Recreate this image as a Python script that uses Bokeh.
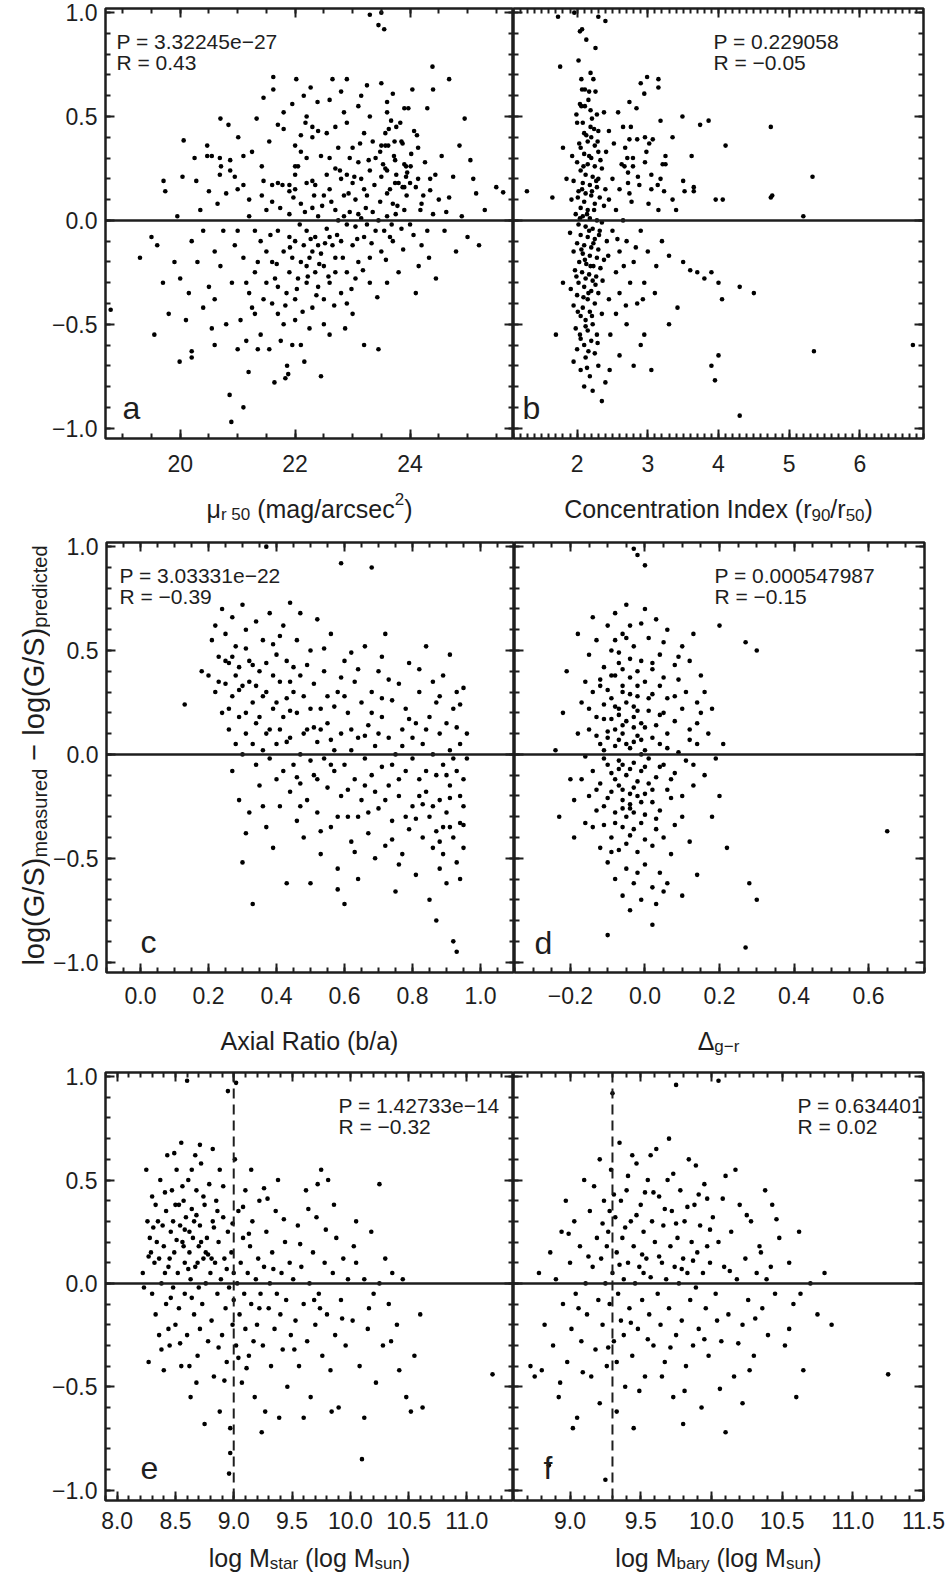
import numpy as np
from bokeh.plotting import figure
from bokeh.layouts import column, row
from bokeh.models import Span, Label, LinearAxis, FixedTicker, Range1d
from bokeh.core.properties import value
from bokeh.embed import file_html
from bokeh.resources import INLINE

FONT = "Liberation Sans"
INK = "#1e1e1e"

# ---------------- data ----------------
panel_a = [
(23.3,0.99),(23.45,0.94),(23.55,0.92),(23.5,1.0),
(21.62,0.69),(22.02,0.68),(21.62,0.63),(21.45,0.59),(22.27,0.64),(22.39,0.57),
(20.7,0.49),(20.84,0.46),(21.01,0.40),(21.33,0.49),(20.06,0.385),(20.47,0.36),(20.47,0.31),(20.55,0.31),(20.69,0.30),(20.87,0.29),
(20.71,0.26),(20.87,0.24),(21.1,0.31),(21.42,0.26),(20.69,0.22),(19.71,0.19),(20.04,0.21),(20.28,0.19),(19.74,0.14),(20.5,0.14),
(20.8,0.13),(21.0,0.15),(21.1,0.17),(21.42,0.12),(21.6,0.17),(21.7,0.18),(21.78,0.17),(21.8,0.44),(21.7,0.46),(21.8,0.52),
(21.95,0.56),(22.2,0.50),(22.18,0.47),(22.3,0.45),(22.4,0.43),(22.1,0.41),(22.3,0.40),(22.0,0.36),(22.1,0.33),(22.2,0.30),
(22.0,0.26),(22.05,0.26),(22.0,0.22),(22.2,0.18),(22.3,0.19),(22.35,0.17),(21.9,0.17),(22.0,0.15),(21.9,0.14),
(24.39,0.74),(24.68,0.68),(24.4,0.63),(24.04,0.63),(23.7,0.61),(23.6,0.57),(23.5,0.66),(23.9,0.54),(23.97,0.54),(24.3,0.54),
(23.6,0.52),(23.67,0.48),(23.76,0.45),(23.57,0.42),(24.07,0.43),(23.73,0.38),(23.85,0.38),(23.87,0.37),(23.5,0.36),(23.57,0.36),
(23.62,0.36),(24.14,0.35),(24.86,0.36),(23.48,0.33),(24.02,0.32),(23.74,0.29),(23.9,0.27),(23.93,0.26),(23.57,0.25),(23.6,0.24),
(23.76,0.22),(23.95,0.23),(23.93,0.21),(23.5,0.21),(24.14,0.20),(24.35,0.20),(23.74,0.18),(23.8,0.18),(24.0,0.18),(23.65,0.15),
(23.87,0.16),(23.9,0.16),(24.1,0.16),(24.35,0.145),(24.23,0.12),(23.6,0.13),(25.62,0.135),(24.5,0.10),(24.68,0.11),
(22.6,0.58),(22.7,0.45),(22.8,0.62),(22.9,0.47),(23.0,0.35),(23.1,0.55),(23.2,0.42),(22.6,0.3),(22.7,0.25),(22.8,0.2),
(22.9,0.22),(23.0,0.18),(23.1,0.28),(23.2,0.15),(23.3,0.24),(23.4,0.3),(22.5,0.12),(22.6,0.15),(22.75,0.35),(22.85,0.12),
(23.05,0.1),(23.25,0.12),(23.35,0.38),(22.95,0.3),(23.15,0.2),(22.55,0.22),(23.3,0.5),(23.25,0.65),(22.9,0.68),
(25.1,0.2),(25.3,0.05),(24.9,0.02),(25.0,-0.08),(24.8,-0.15),(24.6,-0.05),(25.15,0.13),(25.5,0.16),
(18.79,-0.43),(19.5,-0.08),(19.6,-0.12),(19.9,-0.2),(19.7,-0.3),(19.8,-0.45),(20.0,-0.28),(20.2,-0.1),(20.3,-0.2),(20.2,-0.63),
(20.2,-0.66),(20.4,-0.05),(20.5,-0.32),(20.6,-0.15),(20.6,-0.38),(20.7,-0.22),(20.8,-0.5),(20.9,-0.3),(19.99,-0.68),(20.86,-0.84),
(21.1,-0.9),(20.89,-0.97),(21.19,-0.73),(21.86,-0.70),(21.88,-0.74),(21.83,-0.76),(21.64,-0.78),(22.16,-0.68),
(21.0,-0.05),(21.1,-0.18),(21.2,-0.35),(21.2,0.02),(21.3,-0.25),(21.3,-0.45),(21.4,-0.1),(21.4,-0.55),(21.5,-0.3),(21.5,0.05),
(21.6,-0.2),(21.6,-0.4),(21.7,-0.05),(21.7,-0.32),(21.8,-0.15),(21.8,-0.5),(21.9,-0.25),(21.9,0.03),(22.0,-0.1),(22.0,-0.38),
(22.1,-0.2),(22.1,-0.6),(22.2,-0.05),(22.2,-0.3),(22.3,-0.15),(22.3,-0.42),(22.4,-0.12),(22.4,0.02),(22.5,-0.22),(22.5,-0.5),
(22.6,-0.08),(22.6,-0.3),(22.7,-0.18),(22.7,0.05),(22.8,-0.1),(22.8,-0.35),(22.9,-0.02),(22.9,-0.25),(23.0,-0.12),(23.0,-0.45),
(23.1,0.03),(23.1,-0.2),(23.2,-0.08),(23.2,-0.6),(23.3,-0.3),(23.4,-0.05),(23.5,-0.15),(23.6,0.02),(23.7,-0.1),(23.8,-0.25),
(23.9,0.05),(24.0,-0.02),(24.1,-0.35),(24.2,-0.12),(24.3,-0.05),(24.4,0.03),(23.45,-0.62),(22.45,-0.75),(22.6,-0.55),(21.95,-0.6),
(22.25,-0.52),(21.55,-0.62),(21.75,-0.58),
(22.15,-0.12),(22.25,-0.18),(22.35,-0.08),(22.45,-0.16),(22.55,-0.04),(22.65,-0.12),(22.35,-0.25),(22.2,-0.22),(22.4,-0.32),(22.05,-0.28),
(21.95,-0.18),(21.85,-0.35),(21.65,-0.28),(21.45,-0.38),(21.35,-0.2),(21.25,-0.42),(21.15,-0.3),(21.05,-0.48),(20.95,-0.12),(22.75,0.0),
(22.85,0.02),(22.95,0.04),(23.05,-0.03),(23.15,0.01),(23.25,-0.02),(23.35,0.04),(23.45,0.0),(23.55,-0.05),(23.65,-0.08),(23.75,0.03),
(23.85,-0.04),(22.7,-0.25),(22.9,-0.4),(23.05,-0.28),(23.3,-0.18),(23.6,-0.3),(22.5,-0.38),(21.7,-0.45),(22.0,-0.48),(21.5,-0.15),
(21.3,-0.05),(21.9,-0.08),(20.4,-0.42),(20.1,-0.48),(20.6,-0.6),(21.0,-0.62),(21.35,-0.62),(23.7,0.08),(24.2,0.08),(22.1,0.08),
(22.3,0.06),(21.6,0.09),(21.2,0.1),
(21.57,-0.07),(21.68,-0.21),(21.74,0.06),(21.83,-0.41),(21.91,-0.13),(21.97,0.11),(22.03,-0.33),(22.08,-0.02),(22.13,-0.44),(22.17,0.04),
(22.22,-0.27),(22.27,-0.09),(22.33,0.12),(22.37,-0.36),(22.42,-0.21),(22.47,0.07),(22.52,-0.11),(22.58,-0.27),(22.63,0.09),(22.68,-0.41),
(22.73,-0.07),(22.78,0.24),(22.83,-0.18),(22.87,-0.52),(22.93,0.13),(22.98,-0.33),(23.03,0.21),(23.08,-0.09),(23.13,0.37),(23.18,-0.24),
(23.23,0.06),(23.28,0.29),(23.33,-0.11),(23.38,0.17),(23.43,-0.37),(23.48,0.09),(23.53,0.27),(23.58,-0.19),(23.63,0.44),(23.68,-0.02),
(23.72,0.31),(23.78,0.07),(23.83,0.47),(23.88,-0.14),(23.94,0.12),(24.01,0.26),(24.06,-0.07),(24.12,0.41),(24.18,0.05),(24.26,0.28),
(24.33,-0.18),(24.44,0.22),(24.55,0.31),(24.63,0.04),(24.75,0.21),(24.95,0.49),(25.05,0.29),(25.2,-0.12),(24.45,-0.28),(24.15,-0.22),
(20.35,0.05),(20.65,0.08),(20.95,0.21),(21.25,0.33),(21.55,0.38),(20.15,-0.35),(20.55,-0.52),(20.75,-0.05),(21.15,-0.58),(21.45,0.19),
(19.95,0.02),(19.3,-0.18),(19.55,-0.55),(20.25,0.3),(22.55,0.42),(22.85,0.52),(23.15,0.6),(22.65,0.68),(22.45,0.31),(22.15,0.6),
]

panel_b = [
(1.73,0.98),(1.96,1.0),(2.04,0.91),(2.07,0.92),(2.13,0.87),(1.76,0.74),(2.06,0.68),(2.23,0.68),(2.07,0.63),(2.11,0.63),
(2.17,0.62),(2.26,0.62),(2.16,0.58),(2.04,0.56),(2.06,0.55),(1.99,0.51),(2.19,0.53),(2.28,0.51),(2.21,0.49),(2.0,0.47),
(2.19,0.45),(2.3,0.43),(2.45,0.43),(2.65,0.45),(2.76,0.45),(2.9,0.66),(2.99,0.69),(3.15,0.68),(3.15,0.64),(2.95,0.61),
(2.74,0.57),(2.84,0.54),(3.18,0.48),(3.49,0.50),(3.74,0.46),(3.86,0.48),(3.35,0.40),(2.96,0.40),(3.02,0.37),(3.07,0.39),
(2.85,0.39),(2.74,0.39),(2.68,0.35),(2.98,0.33),(3.25,0.31),(3.21,0.27),(3.25,0.27),(2.79,0.30),(2.71,0.30),(2.67,0.26),
(2.79,0.26),(2.72,0.23),(2.86,0.21),(2.72,0.18),(3.05,0.22),(3.18,0.20),(3.14,0.17),(3.05,0.15),(3.23,0.14),(3.5,0.19),
(3.65,0.16),(3.52,0.14),(3.65,0.14),(1.29,0.14),(1.65,0.11),(4.74,0.45),(4.10,0.36),(5.33,0.21),(3.96,0.10),(4.06,0.10),
(4.74,0.11),(4.76,0.12),(5.2,0.02),
(2.1,0.42),(2.2,0.4),(2.15,0.38),(2.25,0.36),(2.05,0.35),(2.3,0.33),(2.1,0.32),(2.2,0.3),(2.0,0.28),(2.15,0.27),
(2.25,0.26),(2.35,0.25),(2.05,0.24),(2.12,0.22),(2.22,0.21),(2.3,0.2),(1.95,0.19),(2.08,0.18),(2.18,0.17),(2.28,0.16),
(2.4,0.15),(2.02,0.14),(2.12,0.13),(2.2,0.12),(2.32,0.11),(1.92,0.1),(2.1,0.09),(2.25,0.08),(2.38,0.07),(2.05,0.06),
(2.15,0.05),(2.45,0.1),(2.5,0.2),(2.55,0.05),(2.6,0.15),
(1.98,0.03),(2.08,0.02),(2.18,0.01),(2.28,0.0),(2.35,-0.01),(2.02,-0.02),(2.12,-0.03),(2.22,-0.04),(2.32,-0.05),(1.9,-0.06),
(2.05,-0.07),(2.15,-0.08),(2.25,-0.09),(2.42,-0.1),(2.0,-0.11),(2.1,-0.12),(2.2,-0.13),(2.3,-0.14),(1.95,-0.15),(2.08,-0.16),
(2.18,-0.17),(2.28,-0.18),(2.38,-0.19),(2.03,-0.2),(2.13,-0.21),(2.23,-0.22),(2.33,-0.23),(1.97,-0.24),(2.07,-0.25),(2.17,-0.26),
(2.27,-0.27),(2.12,-0.28),(2.22,-0.29),(2.02,-0.3),(2.5,-0.05),(2.6,-0.15),(2.55,-0.25),(2.7,-0.1),(2.8,-0.2),(2.9,-0.05),
(3.0,-0.15),(2.75,-0.3),(2.65,0.0),
(2.1,-0.32),(2.2,-0.34),(2.3,-0.35),(2.0,-0.36),(2.15,-0.38),(2.25,-0.4),(1.95,-0.41),(2.08,-0.42),(2.18,-0.44),(2.35,-0.45),
(2.05,-0.46),(2.12,-0.48),(2.22,-0.5),(1.98,-0.52),(2.15,-0.53),(2.28,-0.55),(2.05,-0.57),(2.2,-0.58),(2.1,-0.6),(2.45,-0.38),
(2.55,-0.45),(2.6,-0.35),(2.7,-0.5),(2.85,-0.4),(2.95,-0.3),
(2.0,-0.62),(2.25,-0.64),(2.12,-0.66),(2.3,-0.7),(2.05,-0.72),(2.18,-0.75),(2.4,-0.78),(2.22,-0.82),(2.35,-0.87),(2.6,-0.65),
(2.1,-0.8),(1.95,-0.68),
(3.3,-0.17),(3.5,-0.2),(3.6,-0.24),(3.7,-0.25),(3.8,-0.28),(3.9,-0.25),(4.0,-0.3),(4.05,-0.38),(4.3,-0.32),(4.5,-0.35),
(4.0,-0.65),(3.9,-0.7),(3.95,-0.77),(4.3,-0.94),(5.35,-0.63),(6.75,-0.6),(3.2,-0.1),(3.4,0.05),(3.1,-0.35),(3.3,-0.5),
(2.9,-0.6),(3.05,-0.72),(2.95,-0.55),(2.8,-0.7),(3.15,0.05),(3.35,0.1),(1.8,-0.3),(1.85,0.2),(1.7,-0.55),(1.8,0.35),
(2.3,0.98),(2.4,0.96),
(2.03,0.37),(2.17,0.31),(2.24,0.44),(2.09,0.26),(2.27,0.19),(2.01,0.11),(2.14,0.03),(2.31,-0.07),(2.06,-0.14),(2.19,-0.22),
(2.26,-0.31),(2.09,-0.37),(2.21,-0.46),(2.04,-0.55),(2.16,-0.63),(2.33,0.29),(1.99,-0.27),(2.11,-0.19),(2.23,-0.11),(2.13,0.41),
(2.07,0.15),(2.24,0.05),(2.17,-0.05),(2.01,-0.44),(2.29,-0.59),(2.14,-0.71),(2.36,-0.29),(2.41,0.33),(2.44,-0.17),(2.52,0.37),
(2.57,-0.09),(2.63,0.27),(2.69,-0.41),(2.77,0.09),(2.83,-0.13),(2.88,0.17),(2.93,-0.38),(3.01,0.08),(2.47,-0.55),(2.58,0.52),
(2.11,0.55),(2.19,0.71),(2.02,0.77),(2.26,0.83),(2.08,0.47),(2.16,-0.35),(2.21,0.14),(2.04,0.01),(2.29,0.38),(2.12,-0.51),
(1.93,0.31),(1.91,-0.33),(2.38,0.52),(2.46,-0.72),(2.66,-0.22),(2.74,0.13),(2.96,0.28),(3.12,-0.22),(3.42,-0.42),(3.62,0.31),
]

panel_c = [
(0.13,0.24),(0.18,0.40),(0.20,0.38),(0.21,0.55),(0.22,0.30),(0.22,0.62),(0.23,0.47),(0.24,0.70),(0.24,0.20),(0.25,0.34),
(0.25,0.58),(0.26,0.12),(0.26,0.44),(0.27,0.66),(0.27,-0.08),(0.27,0.28),(0.28,0.05),(0.28,0.52),(0.28,0.38),(0.29,-0.22),
(0.29,0.18),(0.30,0.72),(0.30,0.00),(0.30,0.33),(0.30,-0.52),(0.31,-0.38),(0.31,0.60),(0.31,0.10),(0.32,-0.28),(0.32,0.45),
(0.33,-0.72),(0.33,0.25),(0.34,0.64),(0.34,-0.05),(0.34,0.15),(0.35,0.40),(0.35,-0.15),(0.36,0.55),(0.36,0.02),(0.37,1.00),
(0.37,0.30),(0.37,-0.35),(0.38,0.68),(0.38,0.12),(0.38,-0.02),(0.39,0.22),(0.39,-0.45),(0.40,0.48),(0.40,-0.12),(0.40,0.05),
(0.41,0.35),(0.41,-0.25),(0.42,0.62),(0.42,0.18),(0.42,-0.08),(0.43,0.27),(0.43,-0.62),(0.44,0.73),(0.44,0.08),(0.44,-0.18),
(0.45,0.42),(0.45,-0.05),(0.46,0.20),(0.46,-0.32),(0.46,0.55),(0.47,0.00),(0.47,0.68),(0.47,-0.14),(0.48,0.28),(0.48,-0.40),
(0.49,0.12),(0.49,-0.22),(0.50,0.50),(0.50,-0.03),(0.50,-0.62),(0.51,0.34),(0.51,-0.10),(0.52,0.65),(0.52,0.06),(0.52,-0.28),
(0.53,0.22),(0.53,-0.48),(0.54,-0.02),(0.54,0.40),(0.55,-0.16),(0.55,0.15),(0.56,-0.35),(0.56,0.58),(0.57,0.02),(0.57,-0.08),
(0.58,0.30),(0.58,-0.55),(0.59,0.92),(0.59,-0.20),(0.59,0.10),(0.60,0.45),(0.60,-0.72),(0.60,-0.05),(0.61,-0.30),(0.61,0.20),
(0.62,0.02),(0.62,-0.42),(0.63,0.35),(0.63,-0.12),(0.64,-0.60),(0.64,0.08),(0.65,0.25),(0.65,-0.22),(0.66,-0.02),(0.66,0.52),
(0.67,-0.38),(0.67,0.14),(0.68,0.90),(0.68,-0.10),(0.68,0.30),(0.69,-0.50),(0.69,0.04),(0.70,-0.26),(0.70,0.40),(0.71,-0.06),
(0.71,0.18),(0.72,-0.44),(0.72,0.58),(0.73,-0.15),(0.73,0.08),(0.74,0.26),(0.74,-0.32),(0.75,-0.66),(0.75,0.00),(0.76,0.34),
(0.76,-0.20),(0.77,0.12),(0.77,-0.48),(0.78,-0.08),(0.78,0.22),(0.79,0.44),(0.79,-0.36),(0.80,-0.02),(0.80,-0.25),(0.81,0.15),
(0.81,-0.58),(0.82,0.30),(0.82,-0.12),(0.83,-0.40),(0.83,0.05),(0.84,0.52),(0.84,-0.18),(0.85,-0.70),(0.85,0.18),(0.85,-0.30),
(0.86,0.00),(0.86,-0.45),(0.87,0.25),(0.87,-0.10),(0.87,-0.80),(0.88,0.10),(0.88,-0.22),(0.88,-0.55),(0.89,0.38),(0.89,-0.35),
(0.89,-0.05),(0.90,0.15),(0.90,-0.62),(0.90,-0.28),(0.91,0.02),(0.91,-0.15),(0.91,0.48),(0.92,-0.40),(0.92,-0.90),(0.92,0.22),
(0.93,-0.08),(0.93,-0.52),(0.93,-0.95),(0.93,0.30),(0.94,-0.20),(0.94,0.05),(0.94,-0.33),(0.95,0.32),(0.95,-0.12),(0.95,-0.25),
(0.95,-0.45),(0.96,0.10),(0.96,-0.02),
(0.26,0.22),(0.29,0.42),(0.32,0.35),(0.35,0.18),(0.36,0.28),(0.39,0.38),(0.41,0.12),(0.43,0.45),(0.45,0.30),(0.48,0.10),
(0.52,-0.12),(0.55,0.28),(0.58,-0.30),(0.62,0.12),(0.66,-0.15),(0.70,0.10),(0.74,-0.05),(0.78,-0.30),(0.82,-0.20),(0.86,-0.25),
(0.90,-0.10),(0.94,-0.60),(0.91,-0.35),(0.88,-0.42),(0.84,-0.08),(0.80,0.08),(0.76,-0.12),(0.72,-0.22),(0.68,0.20),(0.64,-0.30),
(0.60,0.28),(0.56,-0.05),(0.53,0.12),(0.50,0.22),(0.47,-0.25),(0.44,0.35),(0.40,0.25),(0.37,0.10),(0.33,0.05),(0.31,0.20),
(0.27,0.47),(0.31,0.51),(0.34,0.33),(0.37,0.44),(0.41,0.57),(0.44,0.21),(0.47,0.38),(0.51,0.13),(0.54,0.51),(0.57,0.23),
(0.61,-0.17),(0.64,0.41),(0.67,-0.28),(0.71,0.27),(0.74,-0.41),(0.77,0.04),(0.81,-0.31),(0.84,0.12),(0.87,-0.37),(0.91,-0.21),
(0.93,0.13),(0.95,-0.34),(0.92,-0.02),(0.89,-0.48),(0.86,0.35),(0.83,-0.24),(0.79,0.17),(0.76,-0.53),(0.73,0.36),(0.69,-0.18),
(0.66,0.09),(0.63,-0.47),(0.59,0.37),(0.56,0.07),(0.53,-0.37),(0.49,0.43),(0.46,-0.11),(0.43,0.06),(0.39,0.53),(0.36,-0.25),
(0.33,0.43),(0.29,0.31),(0.25,0.45),(0.23,0.35),(0.62,0.49),(0.71,0.47),(0.82,0.41),(0.88,0.28),(0.94,0.24),(0.58,-0.65),
]

panel_d = [
(-0.03,0.99),(-0.02,0.96),(0.00,0.91),
(-0.10,0.62),(-0.08,0.68),(-0.05,0.72),(0.00,0.70),(0.03,0.65),(-0.13,0.55),(-0.06,0.58),(0.01,0.56),(0.06,0.60),(-0.15,0.48),
(-0.09,0.50),(-0.03,0.52),(0.04,0.48),(0.10,0.52),(-0.11,0.42),(-0.07,0.44),(-0.01,0.45),(0.02,0.41),(0.08,0.43),(0.12,0.45),
(-0.18,0.58),(-0.14,0.66),(0.05,0.54),(0.15,0.38),(0.16,0.30),(0.27,0.54),(0.30,0.50),(0.20,0.62),(0.13,0.58),(-0.04,0.62),
(-0.16,0.35),(-0.12,0.36),(-0.08,0.38),(-0.04,0.37),(0.00,0.35),(0.04,0.33),(0.09,0.36),(-0.14,0.30),(-0.10,0.31),(-0.06,0.30),
(-0.02,0.28),(0.02,0.29),(0.06,0.27),(0.11,0.30),(-0.17,0.25),(-0.11,0.24),(-0.07,0.22),(-0.03,0.23),(0.01,0.21),(0.05,0.20),
(0.10,0.22),(-0.13,0.18),(-0.09,0.17),(-0.05,0.16),(-0.01,0.15),(0.03,0.14),(0.08,0.16),(0.14,0.15),(-0.15,0.12),(-0.10,0.11),
(-0.06,0.10),(-0.02,0.09),(0.02,0.08),(0.06,0.10),(0.12,0.07),(-0.12,0.05),(-0.08,0.04),(-0.04,0.03),(0.00,0.02),(0.04,0.05),
(0.09,0.01),(-0.16,-0.01),(-0.11,-0.02),(-0.07,-0.03),(-0.03,-0.04),(0.01,-0.02),(0.05,-0.05),(0.11,-0.03),(-0.14,-0.08),(-0.09,-0.09),
(-0.05,-0.10),(-0.01,-0.08),(0.03,-0.11),(0.08,-0.09),(-0.12,-0.14),(-0.07,-0.15),(-0.03,-0.16),(0.01,-0.14),(0.06,-0.17),(0.13,-0.15),
(-0.15,-0.20),(-0.10,-0.21),(-0.06,-0.22),(-0.02,-0.20),(0.02,-0.23),(0.07,-0.21),(-0.13,-0.27),(-0.08,-0.28),(-0.04,-0.26),(0.00,-0.29),
(0.04,-0.27),(0.10,-0.30),(-0.16,-0.33),(-0.11,-0.34),(-0.06,-0.35),(-0.01,-0.33),(0.03,-0.36),(0.08,-0.34),(-0.09,-0.40),(-0.04,-0.39),
(0.00,-0.41),(0.05,-0.40),(-0.12,-0.45),(-0.07,-0.46),(-0.02,-0.47),(0.02,-0.44),(0.07,-0.48),
(-0.05,0.25),(-0.08,0.12),(-0.03,0.06),(-0.06,-0.05),(-0.02,-0.13),(-0.09,-0.18),(-0.04,-0.24),(-0.07,0.19),(-0.01,0.00),(-0.05,-0.30),
(-0.10,0.08),(-0.03,0.18),(0.00,-0.06),(-0.06,0.33),(-0.02,0.40),(-0.08,-0.12),(-0.04,-0.19),(-0.11,0.02),(-0.06,0.14),(-0.03,-0.36),
(-0.10,-0.52),(-0.05,-0.55),(0.00,-0.53),(0.04,-0.57),(-0.08,-0.60),(-0.03,-0.62),(0.02,-0.64),(0.06,-0.62),(-0.06,-0.68),(-0.01,-0.70),
(0.03,-0.72),(-0.04,-0.75),(0.05,-0.66),(-0.10,-0.87),(0.02,-0.82),(0.14,-0.58),(0.10,-0.68),
(0.15,0.20),(0.18,0.22),(0.14,0.25),(0.13,-0.05),(0.16,-0.10),(0.18,-0.30),(0.20,-0.20),(0.22,-0.45),(0.28,-0.62),(0.30,-0.70),
(0.27,-0.93),(0.65,-0.37),(0.12,-0.42),(0.14,0.05),(0.17,0.10),(0.19,-0.02),(0.21,0.05),
(-0.22,0.20),(-0.20,-0.12),(-0.21,0.40),(-0.19,-0.40),(-0.24,0.02),(-0.18,0.10),(-0.19,-0.22),(-0.23,-0.30),
(-0.07,0.07),(-0.04,-0.07),(-0.09,0.27),(-0.02,0.33),(-0.11,-0.25),(-0.06,0.41),(0.01,0.27),(-0.13,0.09),(-0.05,-0.43),(0.02,-0.17),
(-0.08,-0.33),(-0.03,0.13),(0.04,0.19),(-0.1,-0.05),(-0.07,0.49),(-0.01,-0.23),(0.05,0.37),(-0.12,0.33),(-0.04,0.46),(0.03,-0.31),
(-0.06,-0.17),(-0.02,0.21),(-0.09,-0.47),(0.06,0.03),(-0.14,-0.35),(-0.05,0.05),(0.0,0.13),(-0.08,0.23),(-0.03,-0.28),(0.07,-0.12),
(-0.11,0.17),(-0.06,-0.26),(0.02,0.44),(-0.04,0.29),(-0.09,0.38),(0.0,-0.19),(-0.07,-0.07),(-0.01,0.07),(0.04,-0.06),(-0.13,-0.17),
(-0.05,0.56),(0.08,0.28),(-0.15,0.22),(0.1,-0.2),(-0.02,-0.57),(-0.08,0.55),(0.09,0.47),(-0.17,-0.12),(0.12,0.12),(-0.01,0.63),
]

panel_e = [
(8.22,0.05),(8.25,0.55),(8.27,-0.38),(8.28,0.22),(8.30,-0.05),(8.30,0.42),(8.32,0.10),(8.33,-0.15),(8.35,0.30),(8.36,-0.25),
(8.37,0.50),(8.38,0.00),(8.40,0.18),(8.40,-0.42),(8.42,0.35),(8.42,-0.10),(8.43,0.62),(8.44,0.08),(8.45,-0.30),(8.46,0.25),
(8.47,0.45),(8.48,-0.02),(8.49,0.15),(8.50,-0.20),(8.50,0.38),(8.23,-0.02),(8.26,0.30),(8.29,0.15),(8.34,0.20),(8.39,0.28),
(8.41,0.05),(8.45,0.12),(8.48,0.30),
(8.51,0.55),(8.52,0.05),(8.53,-0.12),(8.54,0.28),(8.55,0.68),(8.55,-0.40),(8.56,0.20),(8.57,0.40),(8.58,-0.05),(8.58,0.10),
(8.59,0.32),(8.60,-0.25),(8.60,0.98),(8.61,0.50),(8.62,0.15),(8.63,-0.55),(8.63,0.02),(8.64,0.36),(8.65,0.22),(8.66,-0.15),
(8.67,0.62),(8.67,0.08),(8.68,0.45),(8.69,-0.35),(8.70,0.18),(8.70,-0.02),(8.71,0.28),(8.72,0.58),(8.73,-0.10),(8.74,0.12),
(8.75,-0.68),(8.75,0.38),(8.76,0.00),(8.77,0.22),(8.78,-0.28),(8.79,0.48),(8.80,0.05),(8.53,0.38),(8.57,0.18),(8.62,0.25),
(8.66,0.30),(8.69,0.10),(8.72,0.20),(8.76,0.15),(8.62,-0.40),(8.68,-0.48),
(8.81,-0.18),(8.82,0.65),(8.82,0.30),(8.83,-0.45),(8.84,0.10),(8.85,0.40),(8.86,-0.05),(8.87,0.20),(8.88,-0.62),(8.88,0.55),
(8.89,0.02),(8.90,-0.25),(8.91,0.32),(8.92,0.12),(8.93,-0.12),(8.94,-0.38),(8.95,0.93),(8.95,0.25),(8.96,-0.02),(8.97,-0.70),
(8.98,0.15),(8.99,-0.20),(9.00,0.05),(9.00,-0.08),(9.01,0.60),(9.02,0.97),(9.02,-0.30),(9.03,0.00),(9.04,0.35),(9.05,-0.15),
(9.06,0.10),(9.07,-0.48),(9.08,0.22),(9.09,-0.05),(9.10,0.45),(9.10,-0.22),(8.96,-0.92),(8.97,-0.82),
(9.12,0.05),(9.13,-0.35),(9.14,0.18),(9.15,-0.10),(9.16,0.30),(9.18,-0.55),(9.19,0.02),(9.20,-0.20),(9.21,0.12),(9.22,0.40),
(9.23,-0.05),(9.25,-0.30),(9.26,0.08),(9.27,-0.62),(9.28,0.25),(9.30,-0.12),(9.31,0.00),(9.32,-0.40),(9.33,0.15),(9.35,-0.22),
(9.36,0.35),(9.37,-0.05),(9.38,0.50),(9.40,-0.15),(9.41,0.05),(9.42,-0.32),(9.44,0.20),(9.45,-0.08),(9.46,-0.50),(9.48,0.10),
(9.49,-0.25),(9.15,0.55),(9.24,-0.72),(9.39,-0.65),
(9.51,0.02),(9.53,-0.18),(9.55,0.28),(9.56,-0.40),(9.58,0.08),(9.60,-0.10),(9.62,0.45),(9.63,-0.28),(9.65,0.00),(9.66,-0.55),
(9.68,0.15),(9.70,-0.20),(9.71,0.32),(9.73,-0.05),(9.75,0.55),(9.76,-0.35),(9.78,0.10),(9.80,-0.15),(9.81,0.50),(9.83,-0.42),
(9.85,0.05),(9.87,-0.25),(9.88,0.22),(9.90,-0.60),(9.92,-0.08),(9.94,0.12),(9.96,-0.30),(9.98,0.02),(9.60,-0.65),(9.74,-0.12),
(9.84,-0.62),(9.72,0.48),
(10.02,-0.18),(10.05,0.10),(10.08,-0.40),(10.10,-0.85),(10.12,0.02),(10.15,-0.22),(10.18,0.25),(10.20,-0.05),(10.22,-0.48),(10.25,0.00),
(10.28,-0.30),(10.30,0.12),(10.33,-0.10),(10.36,0.05),(10.40,-0.20),(10.45,0.02),(10.48,-0.55),(10.52,-0.62),(10.55,-0.35),(10.60,-0.15),
(10.62,-0.60),(10.25,0.48),(10.05,0.30),(10.12,-0.65),(11.22,-0.44),
(8.31,0.27),(8.36,0.12),(8.41,0.44),(8.46,-0.07),(8.51,0.21),(8.56,0.47),(8.61,0.07),(8.64,-0.07),(8.68,0.33),(8.71,-0.22),
(8.74,0.42),(8.78,0.14),(8.83,0.27),(8.87,-0.31),(8.91,0.47),(8.94,0.07),(8.99,0.29),(9.04,-0.36),(9.08,0.37),(9.13,0.24),
(9.17,-0.28),(9.22,-0.12),(9.29,0.41),(9.34,0.07),(9.43,0.31),(9.52,-0.32),(9.57,0.19),(9.64,0.36),(9.69,-0.08),(9.79,0.26),
(9.86,0.38),(9.93,-0.17),(10.03,0.18),(10.16,-0.12),(10.35,-0.28),(10.42,-0.42),(8.27,0.13),(8.33,0.38),(8.44,-0.22),(8.58,0.26),
(8.49,0.63),(8.71,0.67),(8.81,0.12),(8.92,-0.47),(9.11,-0.41),(9.26,0.46),(8.38,-0.32),(8.54,-0.29),(8.64,0.55),(8.86,0.35),
]

panel_f = [
(8.72,-0.40),(8.75,-0.45),(8.78,0.05),(8.80,-0.42),(8.82,-0.20),(8.85,-0.88),(8.86,0.15),(8.88,-0.30),(8.90,0.02),(8.92,-0.55),
(8.94,0.25),(8.95,-0.10),(8.97,0.40),(8.98,-0.38),(9.00,0.10),(9.01,-0.22),(9.03,0.30),(9.04,-0.05),(9.05,-0.65),(9.07,0.18),
(9.08,-0.28),(9.10,0.50),(9.11,0.00),(9.12,-0.15),(9.14,0.35),(9.15,-0.45),(9.16,0.08),(9.18,-0.32),(9.19,0.22),(9.20,-0.08),
(9.25,-0.95),(8.93,-0.48),(9.02,-0.70),
(9.21,0.60),(9.22,0.12),(9.23,-0.20),(9.24,0.40),(9.25,0.00),(9.26,-0.40),(9.27,0.25),(9.28,-0.10),(9.29,0.55),(9.30,0.05),
(9.31,-0.28),(9.32,0.32),(9.33,0.15),(9.34,-0.05),(9.35,0.68),(9.36,-0.18),(9.37,0.22),(9.38,0.02),(9.39,-0.50),(9.40,0.45),
(9.41,0.10),(9.42,-0.12),(9.43,0.30),(9.44,-0.35),(9.45,0.18),(9.46,0.00),(9.47,0.58),(9.48,-0.22),(9.49,0.08),(9.50,0.38),
(9.51,-0.08),(9.52,0.25),(9.53,-0.45),(9.54,0.12),(9.55,0.50),(9.56,-0.15),(9.57,0.03),(9.58,0.30),(9.59,-0.30),(9.60,0.20),
(9.30,0.92),(9.33,-0.62),(9.45,-0.70),(9.28,0.35),(9.36,0.40),(9.44,0.62),(9.52,0.05),(9.38,-0.25),(9.26,0.18),
(9.61,0.65),(9.62,-0.05),(9.63,0.42),(9.64,-0.20),(9.65,0.10),(9.66,0.28),(9.67,-0.38),(9.68,0.02),(9.69,0.50),(9.70,-0.12),
(9.71,0.18),(9.72,0.35),(9.73,-0.55),(9.74,0.08),(9.75,0.96),(9.75,-0.25),(9.76,0.22),(9.77,0.00),(9.78,0.45),(9.79,-0.18),
(9.80,0.12),(9.81,0.30),(9.82,-0.40),(9.83,0.05),(9.84,0.60),(9.85,-0.08),(9.86,0.20),(9.87,-0.30),(9.88,0.38),(9.89,-0.02),
(9.90,0.15),(9.91,-0.22),(9.92,0.28),(9.93,-0.60),(9.94,0.05),(9.95,0.48),(9.96,-0.12),(9.97,0.18),(9.98,-0.35),(9.99,0.10),
(9.70,0.70),(9.80,-0.68),
(10.01,0.32),(10.03,-0.05),(10.05,0.98),(10.05,0.20),(10.07,-0.28),(10.09,0.08),(10.10,0.52),(10.12,-0.15),(10.14,0.25),(10.16,-0.45),
(10.18,0.02),(10.20,0.38),(10.22,-0.20),(10.24,0.12),(10.26,-0.08),(10.28,0.30),(10.30,-0.35),(10.32,0.05),(10.34,0.18),(10.36,-0.12),
(10.38,0.45),(10.40,-0.25),(10.42,0.08),(10.45,-0.05),(10.48,0.22),(10.10,-0.72),(10.22,-0.58),(10.35,0.15),
(10.52,-0.30),(10.55,0.10),(10.58,-0.10),(10.62,0.25),(10.65,-0.42),(10.70,0.00),(10.75,-0.15),(10.80,0.05),(10.85,-0.20),(10.60,-0.55),
(11.25,-0.44),
(9.23,0.29),(9.27,-0.31),(9.31,0.43),(9.35,0.09),(9.39,0.27),(9.43,-0.19),(9.47,0.33),(9.51,0.14),(9.55,-0.27),(9.59,0.44),
(9.63,0.13),(9.67,0.36),(9.71,-0.31),(9.75,0.29),(9.79,0.07),(9.83,0.37),(9.87,0.11),(9.91,0.43),(9.95,-0.27),(9.99,0.26),
(10.04,-0.18),(10.08,0.41),(10.13,0.06),(10.19,-0.29),(10.25,0.33),(10.31,-0.17),(10.39,0.02),(10.46,0.31),(10.55,-0.22),(10.63,-0.05),
(9.13,0.13),(9.06,-0.12),(9.17,0.47),(8.99,0.24),(9.09,-0.43),(9.33,-0.38),(9.41,0.52),(9.49,-0.52),(9.57,0.62),(9.65,-0.45),
(9.73,0.53),(9.81,-0.52),(9.89,0.57),(9.97,0.41),(10.06,-0.51),(10.17,0.55),(10.27,-0.42),(10.43,0.38),(9.21,-0.58),(9.53,0.44),
]

stats_p = ["3.32245e\u221227", "0.229058", "3.03331e\u221222", "0.000547987", "1.42733e\u221214", "0.634401"]
stats_r = ["0.43", "\u22120.05", "\u22120.39", "\u22120.15", "\u22120.32", "0.02"]
letters = ["a", "b", "c", "d", "e", "f"]

x_ranges = [(18.7, 25.8), (1.1, 6.9), (-0.1, 1.1), (-0.35, 0.75), (7.9, 11.4), (8.6, 11.5)]
x_major = [[20, 22, 24], [2, 3, 4, 5, 6], [0.0, 0.2, 0.4, 0.6, 0.8, 1.0],
           [-0.2, 0.0, 0.2, 0.4, 0.6], [8.0, 8.5, 9.0, 9.5, 10.0, 10.5, 11.0],
           [9.0, 9.5, 10.0, 10.5, 11.0, 11.5]]
x_minor_step = [0.5, 0.1, 0.05, 0.05, 0.1, 0.1]
x_decimals = [0, 0, 1, 1, 1, 1]
dashed_at = [None, None, None, None, 9.0, 9.3]

Y_RANGE = (-1.05, 1.02)
y_major = [-1.0, -0.5, 0.0, 0.5, 1.0]

titles = [
    [("\u03bc", "n"), ("r 50", "sub"), (" (mag/arcsec", "n"), ("2", "sup"), (")", "n")],
    [("Concentration Index (r", "n"), ("90", "sub"), ("/r", "n"), ("50", "sub"), (")", "n")],
    [("Axial Ratio (b/a)", "n")],
    [("\u0394", "n"), ("g\u2212r", "sub")],
    [("log M", "n"), ("star", "sub"), (" (log M", "n"), ("sun", "sub"), (")", "n")],
    [("log M", "n"), ("bary", "sub"), (" (log M", "n"), ("sun", "sub"), (")", "n")],
]
y_title = [("log(G/S)", "n"), ("measured", "sub"), (" \u2212 log(G/S)", "n"), ("predicted", "sub")]

# ---------------- layout / style ----------------
W = {' ': 278, '(': 333, ')': 333, '/': 278, '.': 278, '\u2212': 584, '-': 333, '=': 584,
     'a': 556, 'b': 556, 'c': 500, 'd': 556, 'e': 556, 'f': 278, 'g': 556, 'h': 556, 'i': 222,
     'j': 222, 'k': 500, 'l': 222, 'm': 833, 'n': 556, 'o': 556, 'p': 556, 'q': 556, 'r': 333,
     's': 500, 't': 278, 'u': 556, 'v': 500, 'w': 722, 'x': 500, 'y': 500, 'z': 500,
     'A': 667, 'C': 722, 'G': 778, 'I': 278, 'M': 833, 'P': 667, 'R': 722, 'S': 667,
     '\u03bc': 576, '\u0394': 668}


def tw(s, size):
    return sum(W.get(c, 556) for c in s) * size / 1000.0


def put(p, ax, ay, dx, dy, text, size):
    p.add_layout(Label(x=ax, y=ay, x_offset=dx, y_offset=dy, text=text,
                       text_font=FONT, text_font_size=f"{size}px", text_color=INK,
                       text_align="left", text_baseline="alphabetic"))


def rich_glyphs(p, cx, cy, pieces, size, angle=0.0):
    """Draw a label with sub/superscripts as text glyphs on a 1:1 pixel strip figure."""
    sub = round(size * 0.68)
    items = []
    for t, k in pieces:
        fs = size if k == "n" else sub
        items.append((t, k, fs, tw(t, fs)))
    pos = -sum(it[3] for it in items) / 2.0
    for t, k, fs, w in items:
        lead = tw(t[:len(t) - len(t.lstrip(" "))], fs)
        shift = {"n": 0.0, "sub": -0.24 * size, "sup": 0.40 * size}[k]
        s = t.strip(" ")
        if angle == 0.0:
            x, y = cx + pos + lead, cy + shift
        else:
            x, y = cx - shift, cy + pos + lead
        p.text(x=[x], y=[y], text=[s], angle=angle, text_font=value(FONT),
               text_font_size=value(f"{fs}px"), text_color=INK,
               text_align="left", text_baseline="alphabetic")
        pos += w


def strip(width, height):
    s = figure(frame_width=width, frame_height=height, x_range=Range1d(0, width),
               y_range=Range1d(0, height), output_backend="svg", toolbar_location=None,
               x_axis_type=None, y_axis_type=None, min_border=0)
    s.grid.visible = False
    s.outline_line_color = None
    s.background_fill_color = "white"
    s.border_fill_color = "white"
    return s


def fmt(v, nd):
    return f"{v:.{nd}f}".replace("-", "\u2212")


def style_axis(ax, ticks, minor, nd, show):
    ax.ticker = FixedTicker(ticks=list(ticks), minor_ticks=list(minor))
    ax.major_label_overrides = {float(t): fmt(t, nd) for t in ticks}
    ax.major_tick_in = 9
    ax.major_tick_out = 0
    ax.minor_tick_in = 5
    ax.minor_tick_out = 0
    ax.major_tick_line_width = 2
    ax.minor_tick_line_width = 2
    ax.major_tick_line_color = INK
    ax.minor_tick_line_color = INK
    ax.axis_line_color = None
    ax.major_label_text_font = FONT
    ax.major_label_text_font_size = "23px"
    ax.major_label_text_color = INK if show else None
    ax.axis_label = None


TOTAL_W = 951
LEFT_MARGIN = 105
YT_W = 50                       # strip holding the rotated y title
FRAME_H = [430, 430, 428]
TOP = [8, 14, 14]
BOTTOM = [46, 46, 38]
STANDOFF = [16, 14, 11]
STRIP_H = [44, 40, 37]
TITLE_BASE = [24, 22, 19]       # title baseline below the strip top
P_DX = [11, 200, 13, 200, 233, 284]
L_DX = [17, 9, 34, 20, 35, 30]
L_DY = [31, 31, 31, 30, 33, 33]

pts_all = [panel_a, panel_b, panel_c, panel_d, panel_e, panel_f]
y_minor = [round(v, 2) for v in np.arange(-1.0, 1.0001, 0.1)]

figs = []
for i in range(6):
    r = i // 2
    left = (i % 2 == 0)
    fw = 408 if left else 410
    xr = x_ranges[i]
    if left:
        mbl = LEFT_MARGIN - (YT_W if r == 1 else 0)
    else:
        mbl = 0
    p = figure(frame_width=fw, frame_height=FRAME_H[r],
               x_range=Range1d(*xr), y_range=Range1d(*Y_RANGE),
               output_backend="svg", toolbar_location=None,
               min_border_left=mbl, min_border_right=0 if left else 28,
               min_border_top=TOP[r], min_border_bottom=BOTTOM[r])
    p.grid.visible = False
    p.outline_line_color = INK
    p.outline_line_width = 2.5
    p.background_fill_color = "white"
    p.border_fill_color = "white"

    step = x_minor_step[i]
    k0 = int(np.ceil(xr[0] / step - 1e-9))
    k1 = int(np.floor(xr[1] / step + 1e-9))
    xminor = [round(k * step, 3) for k in range(k0, k1 + 1)]

    style_axis(p.xaxis[0], x_major[i], xminor, x_decimals[i], True)
    p.xaxis[0].major_label_standoff = STANDOFF[r]
    style_axis(p.yaxis[0], y_major, y_minor, 1, left)
    p.yaxis[0].major_label_standoff = 8
    if not left:
        p.yaxis[0].fixed_location = xr[0]

    top_ax = LinearAxis(fixed_location=Y_RANGE[1])
    style_axis(top_ax, x_major[i], xminor, x_decimals[i], False)
    p.add_layout(top_ax, "above")
    right_ax = LinearAxis(fixed_location=xr[1])
    style_axis(right_ax, y_major, y_minor, 1, False)
    p.add_layout(right_ax, "right")

    p.add_layout(Span(location=0.0, dimension="width", line_color=INK, line_width=2.5))
    if dashed_at[i] is not None:
        p.add_layout(Span(location=dashed_at[i], dimension="height", line_color=INK,
                          line_width=2, line_dash="10 6"))

    xs = [q[0] for q in pts_all[i]]
    ys = [q[1] for q in pts_all[i]]
    p.scatter(x=xs, y=ys, marker="circle", size=4.6, fill_color="black", line_color=None)

    put(p, xr[0], Y_RANGE[1], P_DX[i], -33, "P = " + stats_p[i], 21)
    put(p, xr[0], Y_RANGE[1], P_DX[i], -54, "R = " + stats_r[i], 21)
    put(p, xr[0], Y_RANGE[0], L_DX[i], L_DY[i], letters[i], 32)
    figs.append(p)

# title strips below each row
strips = []
for r in range(3):
    s = strip(TOTAL_W, STRIP_H[r])
    base = STRIP_H[r] - TITLE_BASE[r]
    rich_glyphs(s, LEFT_MARGIN + 408 / 2.0, base, titles[2 * r], 25)
    rich_glyphs(s, LEFT_MARGIN + 408 + 410 / 2.0, base, titles[2 * r + 1], 25)
    strips.append(s)

# rotated y-axis title to the left of row 2
row2_h = TOP[1] + FRAME_H[1] + BOTTOM[1]
yt = strip(YT_W, row2_h)
rich_glyphs(yt, 33, BOTTOM[1] + 231, y_title, 29, angle=np.pi / 2)

layout = column(row(figs[0], figs[1]), strips[0],
                row(yt, figs[2], figs[3]), strips[1],
                row(figs[4], figs[5]), strips[2])
open("out.html", "w").write(file_html(layout, INLINE))
